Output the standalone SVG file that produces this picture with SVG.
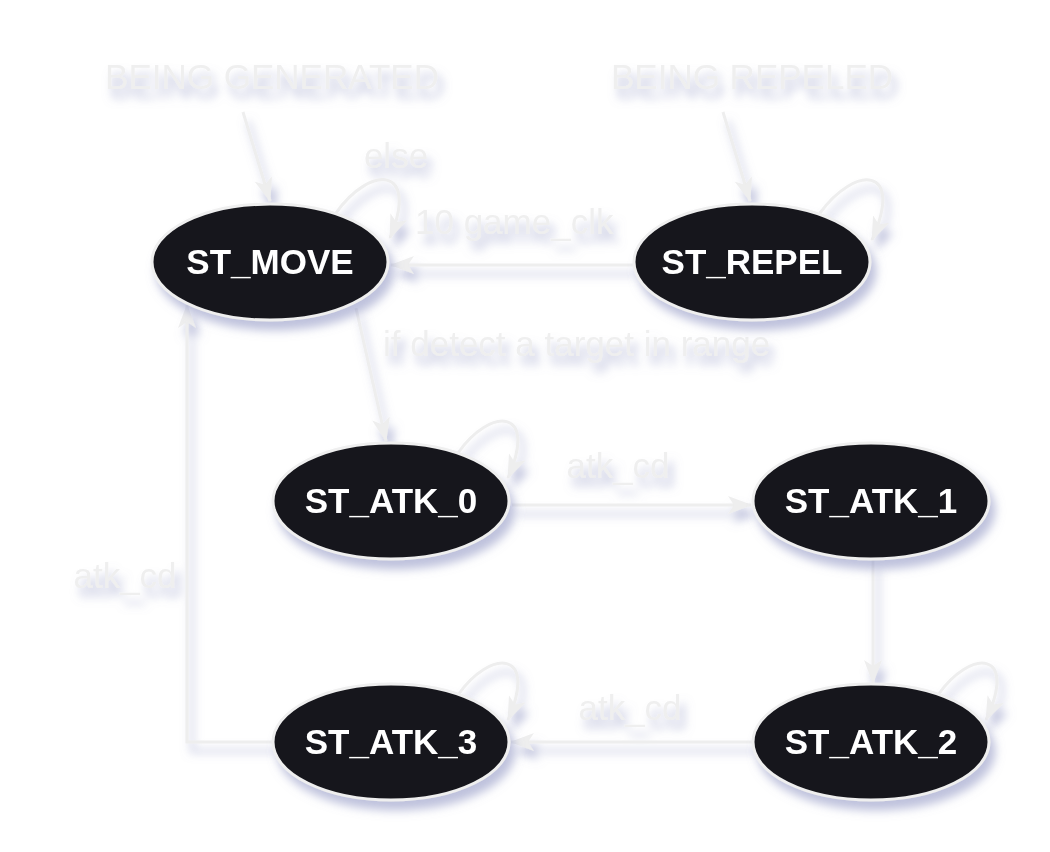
<svg xmlns="http://www.w3.org/2000/svg" width="1050" height="852" viewBox="0 0 1050 852">
<style>
.lbl{font-family:"Liberation Sans",Arial,sans-serif;font-size:35px;fill:#efefef;}
.nt{font-family:"Liberation Sans",Arial,sans-serif;font-size:35px;font-weight:bold;fill:#ffffff;text-anchor:middle;}
.node ellipse{fill:#17171d;stroke:#efefef;stroke-width:3;}
.edge{fill:none;stroke:#eeeeee;stroke-width:3;marker-end:url(#ah);}
</style>
<defs>
<filter id="sh" filterUnits="userSpaceOnUse" x="0" y="0" width="1050" height="852">
<feGaussianBlur in="SourceAlpha" stdDeviation="5"/>
<feOffset dx="5" dy="9" result="b"/>
<feFlood flood-color="#8a90c0" flood-opacity="0.55"/>
<feComposite in2="b" operator="in"/>
<feMerge><feMergeNode/><feMergeNode in="SourceGraphic"/></feMerge>
</filter>
<marker id="ah" markerUnits="userSpaceOnUse" markerWidth="24" markerHeight="18" refX="23" refY="9" orient="auto">
<path d="M0,0 L24,9 L0,18 L6,9 z" fill="#eeeeee"/>
</marker>
</defs>
<rect width="1050" height="852" fill="#ffffff"/>
<g id="connectors" filter="url(#sh)">
<path class="edge" d="M243,112 L270,201"/>
<path class="edge" d="M723,112 L750,201"/>
<path class="edge" d="M336,213 C370,165 420,165 390,238"/>
<path class="edge" d="M820,213 C855,165 905,165 872,240"/>
<path class="edge" d="M633,265 L391,265"/>
<path class="edge" d="M356,308 L386,441"/>
<path class="edge" d="M458,453 C490,407 539,407 508,478"/>
<path class="edge" d="M512,505 L751,505"/>
<path class="edge" d="M873,560 L873,683"/>
<path class="edge" d="M938,695 C970,649 1019,649 986,720"/>
<path class="edge" d="M752,742 L511,742"/>
<path class="edge" d="M458,695 C490,649 539,649 508,720"/>
<path class="edge" d="M272,742 L187,742 L187,305"/>
<text class="lbl" x="396" y="168" text-anchor="middle">else</text>
<text class="lbl" x="415" y="234">10 game_clk</text>
<text class="lbl" x="383" y="356">if detect a target in range</text>
<text class="lbl" x="618" y="478" text-anchor="middle">atk_cd</text>
<text class="lbl" x="630" y="720" text-anchor="middle">atk_cd</text>
<text class="lbl" x="125" y="588" text-anchor="middle">atk_cd</text>
</g>
<g id="start_generated" filter="url(#sh)">
<text class="lbl" x="272" y="89" text-anchor="middle">BEING GENERATED</text>
</g>
<g id="start_repeled" filter="url(#sh)">
<text class="lbl" x="752" y="89" text-anchor="middle">BEING REPELED</text>
</g>
<g id="ST_MOVE" class="node" filter="url(#sh)">
<ellipse cx="270" cy="262" rx="118" ry="58"/>
<text class="nt" x="270" y="274">ST_MOVE</text>
</g>
<g id="ST_REPEL" class="node" filter="url(#sh)">
<ellipse cx="752" cy="262" rx="118" ry="58"/>
<text class="nt" x="752" y="274">ST_REPEL</text>
</g>
<g id="ST_ATK_0" class="node" filter="url(#sh)">
<ellipse cx="391" cy="501" rx="118" ry="58"/>
<text class="nt" x="391" y="513">ST_ATK_0</text>
</g>
<g id="ST_ATK_1" class="node" filter="url(#sh)">
<ellipse cx="871" cy="501" rx="118" ry="58"/>
<text class="nt" x="871" y="513">ST_ATK_1</text>
</g>
<g id="ST_ATK_2" class="node" filter="url(#sh)">
<ellipse cx="871" cy="742" rx="118" ry="58"/>
<text class="nt" x="871" y="754">ST_ATK_2</text>
</g>
<g id="ST_ATK_3" class="node" filter="url(#sh)">
<ellipse cx="391" cy="742" rx="118" ry="58"/>
<text class="nt" x="391" y="754">ST_ATK_3</text>
</g>
</svg>
